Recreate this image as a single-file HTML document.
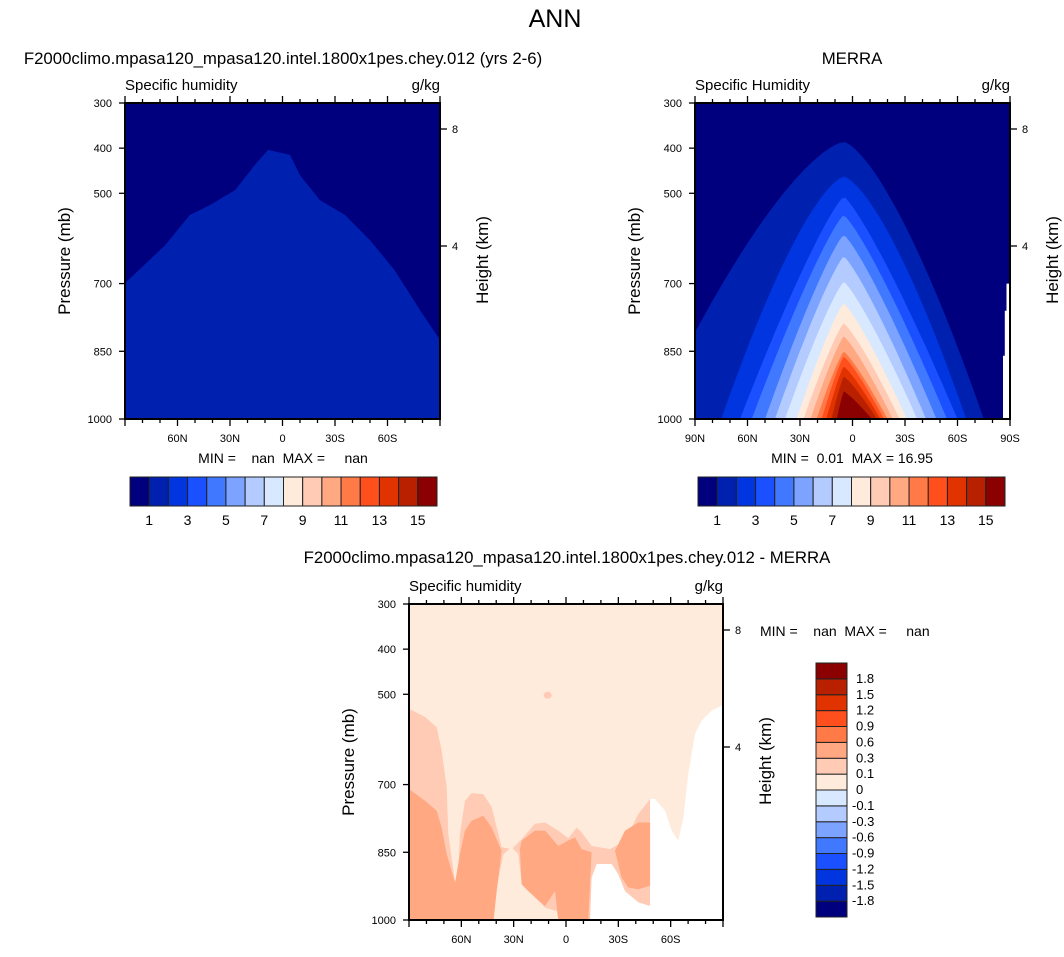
<!DOCTYPE html>
<html><head><meta charset="utf-8">
<style>
body{margin:0;background:#fff;}
svg text{font-family:"Liberation Sans",Arial,sans-serif;fill:#000;}
</style></head>
<body>
<svg id="fig" width="1064" height="952" viewBox="0 0 1064 952" xmlns="http://www.w3.org/2000/svg">
<text x="555" y="27" font-size="25" text-anchor="middle">ANN</text>
<text x="283" y="64" font-size="16.8" text-anchor="middle">F2000climo.mpasa120_mpasa120.intel.1800x1pes.chey.012 (yrs 2-6)</text>
<text x="852" y="64" font-size="16.8" text-anchor="middle">MERRA</text>
<text x="567" y="563" font-size="16.8" text-anchor="middle">F2000climo.mpasa120_mpasa120.intel.1800x1pes.chey.012 - MERRA</text>
<g id="layer"></g>
</svg>
<script>
// ---- data ----
const levelColors = ["#00007f","#0020b0","#0035e0","#1a50ff","#4079ff","#7ba3ff","#b4cbff","#d7e8ff","#ffebdb","#ffcbb5","#ffa882","#ff7a47","#ff4f1c","#e03300","#b82000","#8b0000"];
const fieldTicks = ["1","3","5","7","9","11","13","15"];
const diffTicks = ["1.8","1.5","1.2","0.9","0.6","0.3","0.1","0","-0.1","-0.3","-0.6","-0.9","-1.2","-1.5","-1.8"];
const pTicks = [300,400,500,700,850,1000];
const latTicks = [0,30,60,90,120,150,180];
const latLabels = ["90N","60N","30N","0","30S","60S","90S"];
// model panel: boundary between level0 and level1 (lat from 90N=0, pressure)
const modelLat = [0,22.9,37,48.6,62.9,74.3,81.7,94.3,100,111.4,125.7,140,154,168.6,180];
const modelP = [699,615,548,526,493,437,404,415,460,515,548,604,670,759,825];
// MERRA panel: arch contours per level
const merraTop = [386,463,507,548,592,640,696,744,788,817,851,862,884,906,939];
const merraLeftBase = [-25,15,25.7,32.4,40,45.7,51.4,58,62,66,69.5,72.4,75,78,81];
const merraRightBase = [165,155,150,144,138,132,127,121,117,113,110,108,106,104,101];
const merraPeakLat = 85;
// difference panel regions
const diffL1Lat = [0,9.2,15.9,18.7,21.6,22.5,26.4,28.3,29.2,32.1,35.9,42.6,47.4,53.1,58.9,64.6,72.2,78,85.6,91.3,96.1,99,104.7,115.2,123.8,131.5,138.2,138.2,0];
const diffL1P = [532,550,573,624,706,810,917,884,810,736,719,721,750,839,843,821,787,784,802,819,795,806,836,843,824,765,732,1000,1000];
const diffIslandLat = [47.4,50.3,54.1,58.9,62.7,64.6,70.3,78,84.7,85.6];
const diffIslandP = [1000,928,854,839,854,921,943,973,980,1000];
const diffL2aLat = [0,9.2,15.9,18.7,21.6,26.4,29.2,32.1,35.9,42.6,47.4,53.1,50.3,48.5,0];
const diffL2aP = [710,736,758,795,854,917,854,802,780,769,795,847,936,1000,1000];
const diffL2bLat = [63.6,64.6,72.2,78,85.6,91.3,95.2,99,104.7,102.8,85.6,83.7,78,68.4,64.6];
const diffL2bP = [843,824,802,802,836,824,817,843,850,1000,1000,936,969,936,921];
const diffL2cLat = [118.1,123.8,131.5,138.2,142.9,146.4,142.9,138.2,131.5,125.7,121.9];
const diffL2cP = [847,802,784,784,810,850,884,924,932,928,906];
const diffWhiteLat = [103.8,104.7,107.6,112.4,116.2,120,123.8,131.5,138.2,138.2,141,146.8,150.6,154.4,157.3,160.1,164,167.8,173.5,180,180];
const diffWhiteP = [1000,906,876,876,876,899,936,961,969,732,732,758,802,824,773,676,587,558,536,524,1000];
const diffDotLat = 79.5, diffDotP = 502;

// ---- helpers ----
const NS="http://www.w3.org/2000/svg";
const layer=document.getElementById('layer');
function mk(tag,attrs,parent){const e=document.createElementNS(NS,tag);for(const k in attrs)e.setAttribute(k,attrs[k]);(parent||layer).appendChild(e);return e;}
function axes(x0,y0,w,h){return {x:lat=>x0+lat*w/180,y:p=>y0+(p-300)*h/700,x0,y0,w,h};}
function poly(ax,lats,ps,fill,name,g){
  const pts=lats.map((l,i)=>ax.x(Math.max(0,Math.min(180,l))).toFixed(1)+','+ax.y(Math.min(1000,ps[i])).toFixed(1)).join(' ');
  const e=mk('polygon',{points:pts,fill:fill},g);
  
  
  return e;
}
function frame(ax,name,showEnds,stitle,units){
  const g=mk('g',{});
  
  
  mk('rect',{x:ax.x0,y:ax.y0,width:ax.w,height:ax.h,fill:'none',stroke:'#000','stroke-width':2},g);
  for(let l=0;l<=180;l+=10){
    const major=l%30===0, len=major?7:4, X=ax.x(l);
    mk('line',{x1:X,x2:X,y1:ax.y0+ax.h,y2:ax.y0+ax.h+len,stroke:'#000','stroke-width':1.3},g);
    mk('line',{x1:X,x2:X,y1:ax.y0,y2:ax.y0-len,stroke:'#000','stroke-width':1.3},g);
  }
  latTicks.forEach((l,i)=>{
    if(!showEnds&&(l===0||l===180))return;
    const t=mk('text',{x:ax.x(l),y:ax.y0+ax.h+23,'font-size':11,'text-anchor':'middle'},g);t.textContent=latLabels[i];
    
    
  });
  pTicks.forEach(p=>{
    const Y=ax.y(p);
    mk('line',{x1:ax.x0-6,x2:ax.x0,y1:Y,y2:Y,stroke:'#000','stroke-width':1.3},g);
    const t=mk('text',{x:ax.x0-13,y:Y+4,'font-size':11,'text-anchor':'end'},g);t.textContent=p;
    
    
  });
  [[8,26],[4,143]].forEach(([k,o])=>{
    const Y=ax.y0+o;
    mk('line',{x1:ax.x0+ax.w,x2:ax.x0+ax.w+7,y1:Y,y2:Y,stroke:'#000','stroke-width':1.3},g);
    const t=mk('text',{x:ax.x0+ax.w+12,y:Y+4,'font-size':11},g);t.textContent=k;
    
    
  });
  const yl=mk('text',{x:0,y:0,'font-size':17,'text-anchor':'middle',transform:`translate(${ax.x0-55},${ax.y0+ax.h/2}) rotate(-90)`},g);
  yl.textContent='Pressure (mb)';
  
  
  const hl=mk('text',{x:0,y:0,'font-size':17,'text-anchor':'middle',transform:`translate(${ax.x0+ax.w+48},${ax.y0+157}) rotate(-90)`},g);
  hl.textContent='Height (km)';
  
  
  const st=mk('text',{x:ax.x0,y:ax.y0-13,'font-size':15},g);st.textContent=stitle;
  
  
  const u=mk('text',{x:ax.x0+ax.w,y:ax.y0-13,'font-size':15,'text-anchor':'end'},g);u.textContent=units;
  
  
}
function hbar(x0,y0,w,h,name){
  const g=mk('g',{});
  
  
  const bw=w/levelColors.length;
  levelColors.forEach((c,i)=>{
    const r=mk('rect',{x:x0+i*bw,y:y0,width:bw,height:h,fill:c,stroke:'#222','stroke-width':1},g);
    
    
  });
  fieldTicks.forEach((t,i)=>{
    const k=1+2*i;
    const e=mk('text',{x:x0+k*bw,y:y0+h+19,'font-size':14,'text-anchor':'middle'},g);e.textContent=t;
    
    
  });
}
function minmax(x,y,txt,name,anchor){
  const e=mk('text',{x:x,y:y,'font-size':14,'text-anchor':anchor||'middle','xml:space':'preserve'});
  e.style.whiteSpace='pre';
  e.textContent=txt;
  
  
}

// ---- left model panel ----
const A=axes(125,103,315,316);
mk('rect',{x:A.x0,y:A.y0,width:A.w,height:A.h,fill:levelColors[0]});
poly(A,modelLat.concat([180,0]),modelP.concat([1000,1000]),levelColors[1],'model-level-1');
frame(A,'model',false,'Specific humidity','g/kg');
minmax(283,463,'MIN =    nan  MAX =     nan','model-min-max');
hbar(130,477,307,29,'model-colorbar');

// ---- right MERRA panel ----
const B=axes(695,103,315,316);
mk('rect',{x:B.x0,y:B.y0,width:B.w,height:B.h,fill:levelColors[0]});
merraTop.forEach((top,k)=>{
  const lats=[],ps=[];
  const L=merraLeftBase[k],R=merraRightBase[k],c=merraPeakLat;
  const ex=k<2?1.45:1.2;
  for(let i=0;i<=60;i++){
    const lat=L+(R-L)*i/60;
    const d=lat<c?(c-lat)/(c-L):(lat-c)/(R-c);
    lats.push(lat);ps.push(top+(1000-top)*Math.pow(d,ex));
  }
  lats.push(Math.min(180,R),Math.max(0,L));ps.push(1000,1000);
  poly(B,lats,ps,levelColors[k+1],'merra-level-'+(k+1));
});
poly(B,[176,176,177,177,178,178,180,180],[1000,860,860,760,760,700,700,1000],'#fff','merra-missing');
frame(B,'merra',true,'Specific Humidity','g/kg');
minmax(852,463,'MIN =  0.01  MAX = 16.95','merra-min-max');
hbar(698,477,307,29,'merra-colorbar');

// ---- difference panel ----
const C=axes(409,604,314,316);
mk('rect',{x:C.x0,y:C.y0,width:C.w,height:C.h,fill:levelColors[8]});
poly(C,diffL1Lat,diffL1P,levelColors[9],'diff-0.1-0.3');
poly(C,diffIslandLat,diffIslandP,levelColors[8],'diff-0-0.1-island');
poly(C,diffL2aLat,diffL2aP,levelColors[10],'diff-0.3-0.6-a');
poly(C,diffL2bLat,diffL2bP,levelColors[10],'diff-0.3-0.6-b');
poly(C,diffL2cLat,diffL2cP,levelColors[10],'diff-0.3-0.6-c');
poly(C,diffWhiteLat,diffWhiteP,'#fff','diff-missing');
const dot=mk('ellipse',{cx:C.x(diffDotLat),cy:C.y(diffDotP),rx:4,ry:3.5,fill:levelColors[9]});


frame(C,'diff',false,'Specific humidity','g/kg');
minmax(760,636,'MIN =    nan  MAX =     nan','diff-min-max','start');
// vertical colorbar
const vg=mk('g',{});


const vh=(917-663)/levelColors.length;
levelColors.forEach((c,i)=>{
  const r=mk('rect',{x:816,y:663+(levelColors.length-1-i)*vh,width:31,height:vh,fill:c,stroke:'#222','stroke-width':1},vg);
  
  
});
diffTicks.forEach((t,i)=>{
  const e=mk('text',{x:852,y:663+(i+1)*vh+4,'font-size':13},vg);
  e.textContent=t;
  e.setAttribute('x',t.startsWith('-')?852:856);
  
  
});
</script>
</body></html>
